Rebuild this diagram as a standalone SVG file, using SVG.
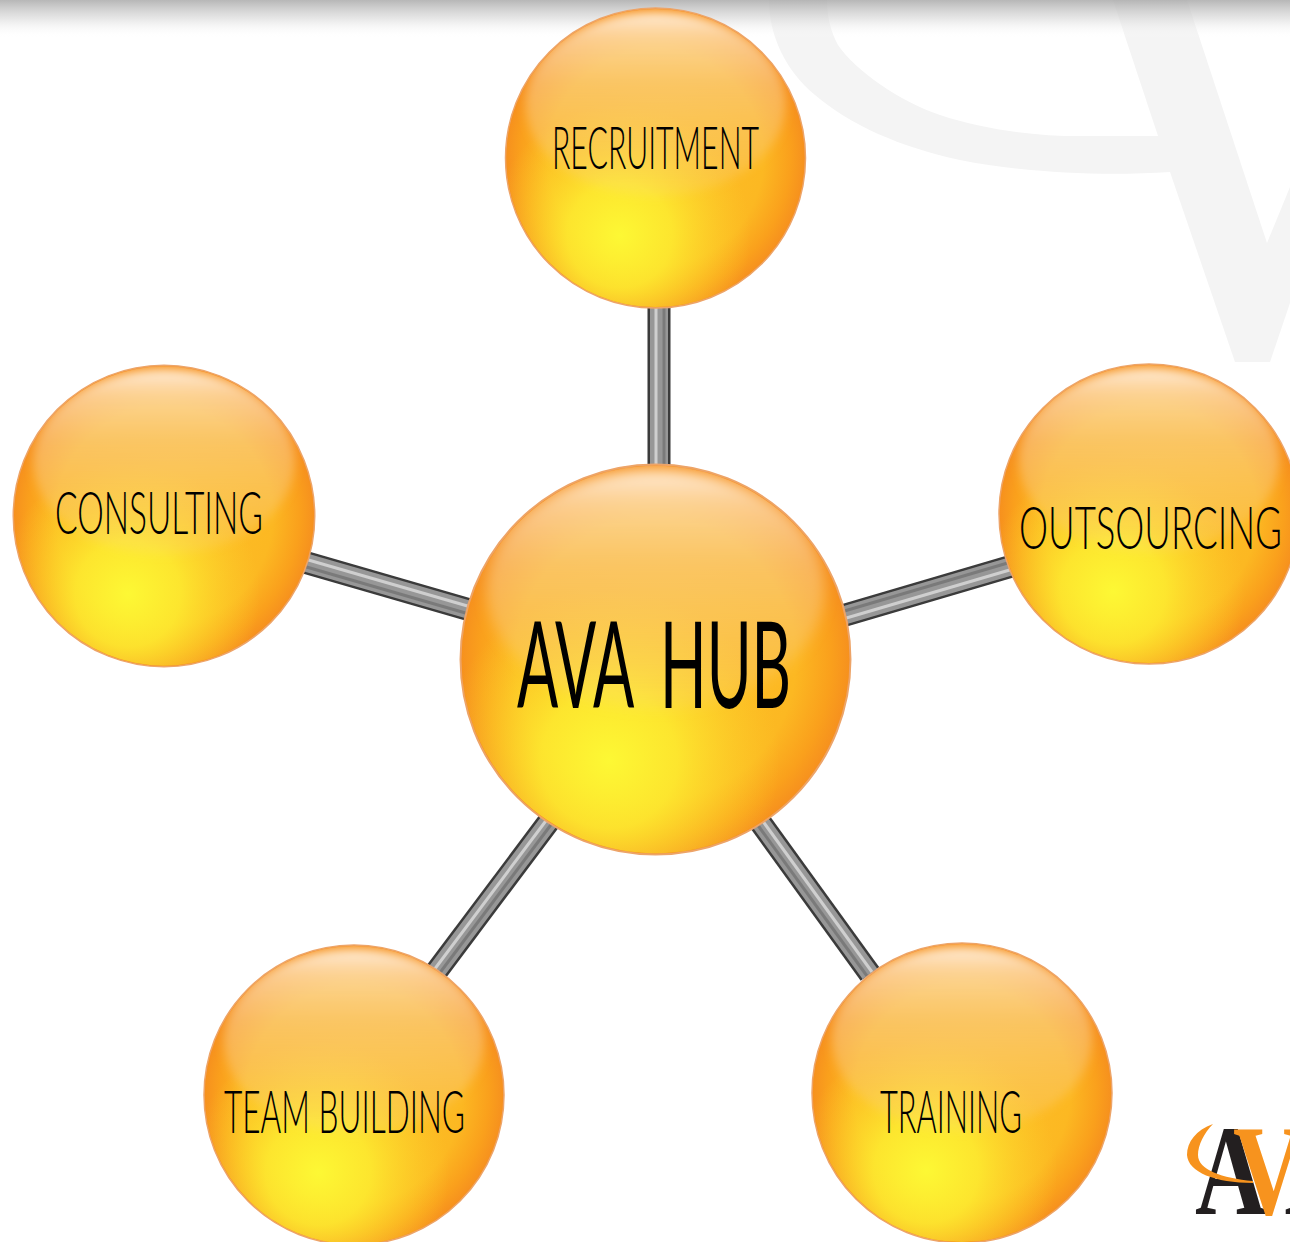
<svg xmlns="http://www.w3.org/2000/svg" width="1290" height="1242" viewBox="0 0 1290 1242">
<style>
.lbl{font-family:"Lato","Liberation Sans",sans-serif;font-weight:300;fill:#000;font-size:60px}
.hub{font-size:120px;font-weight:400;word-spacing:24px}
.r0{stroke:#3a3a3a;stroke-width:23}
.r1{stroke:#979797;stroke-width:18}
.r2{stroke:#cfcfcf;stroke-width:3}
.r3{stroke:#7a7a7a;stroke-width:3}
.logo{font-family:"Liberation Serif",serif;font-size:130px;font-weight:700}
</style>
<defs>
<filter id="soft" x="-20%" y="-20%" width="140%" height="140%"><feGaussianBlur stdDeviation="5"/></filter>
<filter id="rodsoft" x="-5%" y="-5%" width="110%" height="110%"><feGaussianBlur stdDeviation="0.7"/></filter>
<radialGradient id="base" cx="0.5" cy="0.5" r="0.5">
<stop offset="0" stop-color="#fdc228"/><stop offset="0.72" stop-color="#fcb822"/><stop offset="0.9" stop-color="#faa01c"/><stop offset="1" stop-color="#f6901e"/>
</radialGradient>
<radialGradient id="glow" cx="0.38" cy="0.76" r="0.44">
<stop offset="0" stop-color="#fdf834"/><stop offset="0.4" stop-color="#fded30" stop-opacity="0.85"/><stop offset="1" stop-color="#fdd42a" stop-opacity="0"/>
</radialGradient>
<linearGradient id="gloss" x1="0" y1="0" x2="0" y2="1">
<stop offset="0" stop-color="#fff0e0" stop-opacity="0.95"/><stop offset="0.14" stop-color="#fde2c2" stop-opacity="0.7"/><stop offset="0.4" stop-color="#f9cfa0" stop-opacity="0.5"/><stop offset="0.8" stop-color="#f9cf90" stop-opacity="0.3"/><stop offset="1" stop-color="#fbd890" stop-opacity="0.16"/>
</linearGradient>
<linearGradient id="band" x1="0" y1="0" x2="0" y2="1">
<stop offset="0" stop-color="#aaa" stop-opacity="0.85"/><stop offset="0.5" stop-color="#d8d8d8" stop-opacity="0.6"/><stop offset="1" stop-color="#fff" stop-opacity="0"/>
</linearGradient>
<clipPath id="ballclip"><circle r="149"/></clipPath>
<g id="ball">
<circle r="150" fill="url(#base)" stroke="#eda468" stroke-width="1.5"/>
<circle r="149" fill="url(#glow)"/>
<g clip-path="url(#ballclip)"><ellipse cx="0" cy="-54" rx="130" ry="92" fill="url(#gloss)" filter="url(#soft)"/></g>
</g>
</defs>
<rect width="1290" height="1242" fill="#fff"/>
<path id="watermark" fill="#f4f4f4" d="M769 0C769 35 785 70 815 95C850 125 900 147 960 160C1030 174 1110 176 1170 172L1235 362H1270L1290 303V187L1267 243L1187 0H1113L1158 136H1090C1040 137 985 130 940 115C900 102 855 70 838 45C830 30 827 15 827 0Z"/>
<rect id="topband" width="1290" height="38" fill="url(#band)"/>
<g id="connectors" fill="none" filter="url(#rodsoft)">
<g id="c-top"><line class="r0" x1="659" y1="300" x2="659" y2="472"/><line class="r1" x1="659" y1="300" x2="659" y2="472"/><line class="r2" x1="656" y1="300" x2="656" y2="472"/><line class="r3" x1="664" y1="300" x2="664" y2="472"/></g>
<g id="c-left"><line class="r0" x1="304" y1="562" x2="470" y2="610"/><line class="r1" x1="304" y1="562" x2="470" y2="610"/><line class="r2" x1="305" y1="559" x2="471" y2="607"/><line class="r3" x1="303" y1="566" x2="469" y2="614"/></g>
<g id="c-right"><line class="r0" x1="842" y1="616" x2="1012" y2="566"/><line class="r1" x1="842" y1="616" x2="1012" y2="566"/><line class="r2" x1="843" y1="619" x2="1013" y2="569"/><line class="r3" x1="841" y1="612" x2="1011" y2="562"/></g>
<g id="c-bl"><line class="r0" x1="550" y1="820" x2="436" y2="972"/><line class="r1" x1="550" y1="820" x2="436" y2="972"/><line class="r2" x1="548" y1="818" x2="434" y2="970"/><line class="r3" x1="553" y1="822" x2="439" y2="974"/></g>
<g id="c-br"><line class="r0" x1="760" y1="822" x2="870" y2="974"/><line class="r1" x1="760" y1="822" x2="870" y2="974"/><line class="r2" x1="762" y1="820" x2="872" y2="972"/><line class="r3" x1="757" y1="824" x2="867" y2="976"/></g>
</g>
<g id="node-recruitment"><use href="#ball" transform="translate(655.5 158)"/><text class="lbl" x="552" y="169" textLength="207" lengthAdjust="spacingAndGlyphs">RECRUITMENT</text></g>
<g id="node-consulting"><use href="#ball" transform="translate(164 516) scale(1.005)"/><text class="lbl" x="55" y="534" textLength="208" lengthAdjust="spacingAndGlyphs">CONSULTING</text></g>
<g id="node-outsourcing"><use href="#ball" transform="translate(1149 514)"/><text class="lbl" x="1019" y="549" textLength="263" lengthAdjust="spacingAndGlyphs">OUTSOURCING</text></g>
<g id="node-team"><use href="#ball" transform="translate(354 1095)"/><text class="lbl" x="224" y="1133" textLength="241" lengthAdjust="spacingAndGlyphs">TEAM BUILDING</text></g>
<g id="node-training"><use href="#ball" transform="translate(962 1093)"/><text class="lbl" x="880" y="1133" textLength="142" lengthAdjust="spacingAndGlyphs">TRAINING</text></g>
<g id="node-hub"><use href="#ball" transform="translate(655.5 659.5) scale(1.3)"/><text class="lbl hub" x="517" y="708" textLength="274" lengthAdjust="spacingAndGlyphs">AVA HUB</text></g>
<g id="logo">
<text class="logo" transform="translate(1195 1214) scale(0.76 1)" fill="#231f20"><tspan x="0">A</tspan><tspan x="50" fill="#f7931e">V</tspan><tspan x="118">A</tspan></text>
<path fill="#f7931e" d="M1213 1124C1196 1130 1187 1142 1187 1155C1188 1172 1215 1183 1253 1183V1181C1222 1178 1198 1170 1198 1155C1198 1145 1204 1133 1213 1124Z"/>
</g>
</svg>
